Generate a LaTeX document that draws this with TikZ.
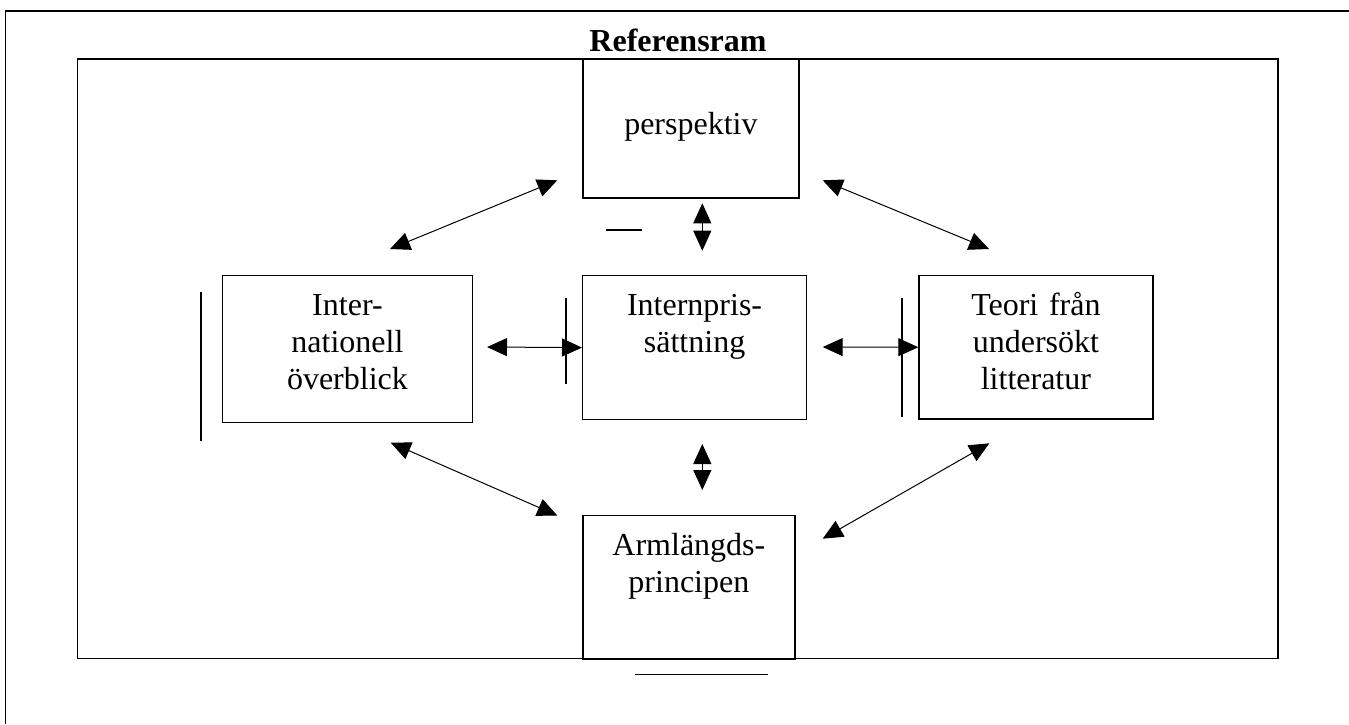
\documentclass[tikz,border=0pt]{standalone}
\usepackage{fontspec}
\setmainfont{Liberation Serif}
\usetikzlibrary{arrows.meta}

% en bildpunkt i referensen
\newlength\pxu
\setlength\pxu{0.5pt}

\begin{document}
\begin{tikzpicture}[x=0.5pt, y=-0.5pt, font=\fontsize{16}{18.35}\selectfont,
                    ruta/.style={draw, line width=0.6pt, inner sep=0pt,
                                 align=center, anchor=north west},
                    pil/.style={line width=0.5pt,
                                {Triangle[length=10pt,width=9pt]}-{Triangle[length=10pt,width=9pt]}},
                    streck/.style={line width=0.6pt}]

    \useasboundingbox (0,0) rectangle (1349,724);
    \fill[white] (0,0) rectangle (1349,724);

    % ==========================================================
    % ramar
    % ==========================================================
    \draw[line width=0.6pt] (5.7,724) -- (5.7,11) -- (1349,11);
    \draw[line width=0.65pt] (77.7,59) rectangle (1278,658.3);
    \node[font=\fontsize{16}{18.35}\selectfont\bfseries, anchor=base] (titel) at (678,51.7) {Referensram};

    % ==========================================================
    % rutor
    % ==========================================================
    \node[ruta, text width=216\pxu, text height=75\pxu, text depth=63.3\pxu]
        (persp) at (582.3,59) {perspektiv};
    \node[ruta, text width=250.3\pxu, text height=40\pxu, text depth=107\pxu]
        (intl) at (221.7,275) {Inter-\\nationell\\överblick};
    \node[ruta, text width=224\pxu, text height=40\pxu, text depth=104\pxu]
        (intern) at (582,275) {Internpris-\\sättning};
    \node[ruta, text width=234\pxu, text height=40\pxu, text depth=103.3\pxu]
        (teori) at (918.3,275) {Teori från\\undersökt\\litteratur};
    \node[ruta, text width=212\pxu, text height=40\pxu, text depth=103.3\pxu]
        (arm) at (582.3,515) {Armlängds-\\principen};

    % ==========================================================
    % pilar
    % ==========================================================
    \coordinate (v1a) at (702.3,203.3);
    \coordinate (v1b) at (702.3,250.7);
    \coordinate (v2a) at (702.3,444);
    \coordinate (v2b) at (702.3,490);
    \coordinate (h1)  at (487,347);
    \coordinate (h2)  at (822.7,347);
    \coordinate (ul1) at (390,249);
    \coordinate (ul2) at (557.3,180.3);
    \coordinate (ur1) at (822.7,180.3);
    \coordinate (ur2) at (989,249);
    \coordinate (ll1) at (390.7,442.7);
    \coordinate (ll2) at (557.3,515.5);
    \coordinate (lr1) at (822.7,538.7);
    \coordinate (lr2) at (989.3,443.3);

    \draw[pil] (h1) -- (intern.west);
    \draw[pil] (h2) -- (teori.west);
    \foreach \p/\q in {v1a/v1b, v2a/v2b, ul1/ul2, ur1/ur2, ll1/ll2, lr1/lr2} {
        \draw[pil] (\p) -- (\q);
    }

    % ==========================================================
    % losa streck
    % ==========================================================
    \draw[streck] (201,292) -- (201,441);
    \draw[streck] (566,298) -- (566,384);
    \draw[streck] (902,298) -- (902,417);
    \draw[streck] (606,230) -- (642,230);
    \draw[streck] (635,674.3) -- (768.3,674.3);

\end{tikzpicture}
\end{document}
